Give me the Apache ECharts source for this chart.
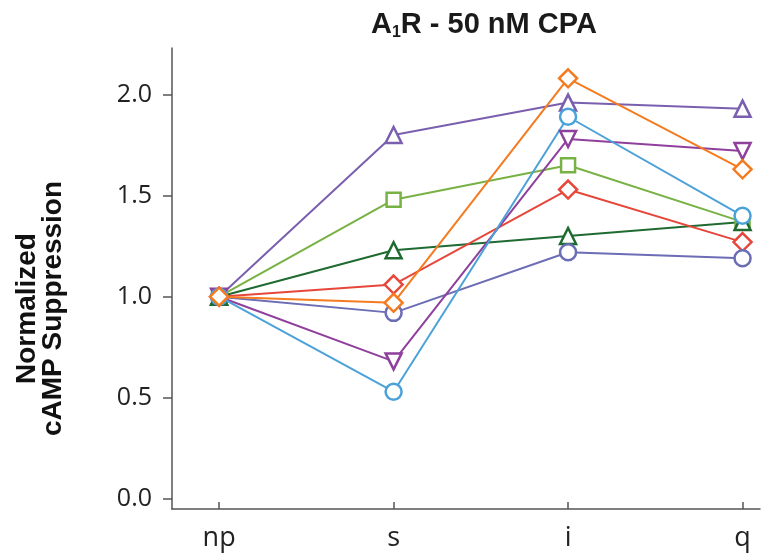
<!DOCTYPE html>
<html>
<head>
<meta charset="utf-8">
<script src="https://cdn.jsdelivr.net/npm/echarts@6/dist/echarts.min.js"></script>
<style>
  html, body { margin: 0; padding: 0; background: #fff; }
  #chart { width: 761px; height: 555px; }
</style>
</head>
<body>
<div id="chart"></div>
<script>
var categories = ['np', 's', 'i', 'q'];
var yTicks = [0, 0.5, 1, 1.5, 2];

// one array per trace, values at np, s, i, q
var purpleUp   = [1.00, 1.80, 1.96, 1.93];
var greenSq    = [1.00, 1.48, 1.65, 1.37];
var darkGreen  = [1.00, 1.23, 1.30, 1.37];
var redDia     = [1.00, 1.06, 1.53, 1.27];
var slateCirc  = [1.00, 0.92, 1.22, 1.19];
var purpleDown = [1.00, 0.68, 1.78, 1.72];
var blueCirc   = [1.00, 0.53, 1.89, 1.40];
var orangeDia  = [1.00, 0.97, 2.08, 1.63];

function pts(arr) {
    return arr.map(function (v, i) { return [i, v]; });
}

function line(name, data, color, symbol, rotate) {
    return {
        name: name,
        type: 'line',
        data: pts(data),
        symbol: symbol,
        symbolSize: symbol === 'rect' ? 14 : (symbol === 'diamond' ? 18 : 16),
        symbolRotate: rotate || 0,
        lineStyle: { color: color, width: 2 },
        itemStyle: { color: '#fff', borderColor: color, borderWidth: 2.5 },
        animation: false
    };
}

var myChart = echarts.init(document.getElementById('chart'));
var option = {
    backgroundColor: '#fff',
    title: {
        text: '{a|A}{s|1}{a|R - 50 nM CPA}',
        left: 366,
        top: 4,
        textStyle: {
            rich: {
                a: { fontFamily: 'Liberation Sans', fontWeight: 'bold', fontSize: 29, color: '#1a1a1a' },
                s: { fontFamily: 'Liberation Sans', fontWeight: 'bold', fontSize: 16, color: '#1a1a1a', verticalAlign: 'bottom', padding: [16, 0, 0, 0] }
            }
        }
    },
    grid: { left: 172, right: 1, top: 48, bottom: 46, outerBoundsMode: 'none' },
    xAxis: {
        type: 'value',
        min: -0.27,
        max: 3.1,
        splitLine: { show: false },
        axisLine: { onZero: false, lineStyle: { color: '#555', width: 1.5 } },
        axisTick: { show: true, inside: true, length: 7, customValues: [0, 1, 2, 3], lineStyle: { color: '#555', width: 1.5 } },
        axisLabel: {
            customValues: [0, 1, 2, 3],
            formatter: function (v) { return categories[Math.round(v)]; },
            fontFamily: 'Open Sans', fontSize: 27, color: '#222', margin: 16
        }
    },
    yAxis: {
        type: 'value',
        min: -0.05,
        max: 2.23,
        splitLine: { show: false },
        axisLine: { show: true, onZero: false, lineStyle: { color: '#555', width: 1.5 } },
        axisTick: { show: true, length: 9, customValues: yTicks, lineStyle: { color: '#555', width: 1.5 } },
        axisLabel: {
            customValues: yTicks,
            formatter: function (v) { return v.toFixed(1); },
            fontFamily: 'Open Sans', fontSize: 25, color: '#222', margin: 20
        },
        name: 'Normalized\ncAMP Suppression',
        nameLocation: 'middle',
        nameGap: 106,
        nameTextStyle: { fontFamily: 'Liberation Sans', fontWeight: 'bold', fontSize: 28, color: '#111', lineHeight: 26, padding: [0, 60, 0, 0] }
    },
    series: [
        line('A', purpleUp, '#7a5fae', 'triangle'),
        line('B', greenSq, '#78b144', 'rect'),
        line('C', darkGreen, '#1f6a31', 'triangle'),
        line('D', redDia, '#e6473a', 'diamond'),
        line('E', slateCirc, '#6b6db5', 'circle'),
        line('F', purpleDown, '#8f3f9c', 'triangle', 180),
        line('G', blueCirc, '#4ba2d9', 'circle'),
        line('H', orangeDia, '#f47b20', 'diamond')
    ]
};
myChart.setOption(option);
</script>
</body>
</html>
